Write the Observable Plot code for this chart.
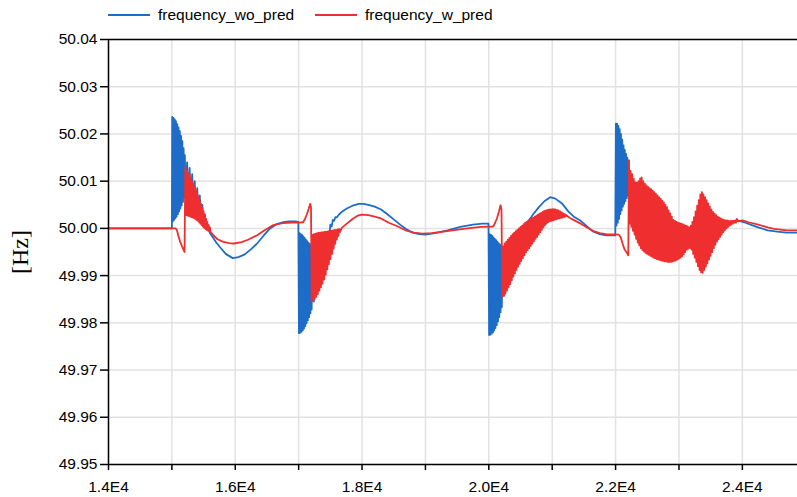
<!DOCTYPE html>
<html><head><meta charset="utf-8">
<script src="https://cdn.jsdelivr.net/npm/d3@7"></script>
<script src="https://cdn.jsdelivr.net/npm/@observablehq/plot@0.6"></script>
<style>
body{margin:0;background:#fff;font-family:"Liberation Sans",Arial,sans-serif;}
#legend{position:relative;height:30px;width:797px;font-size:15.5px;color:#000;}
.item{position:absolute;top:0;height:30px;display:flex;align-items:center;}
.swatch{width:42px;height:2px;margin-right:8px;}
g[aria-label="y-axis label"] text{font-family:"Liberation Serif","Times New Roman",serif;font-size:24px;}
</style></head><body>
<div id="legend"></div>
<div id="chart"></div>
<script>
const seriesNames = ["frequency_wo_pred", "frequency_w_pred"];
const seriesColors = ["#1c6cc8", "#ee2e2f"];
const legendX = [108, 315];

const xTickValues = [14000,15000,16000,17000,18000,19000,20000,21000,22000,23000,24000];
const xTickLabels = ["1.4E4","","1.6E4","","1.8E4","","2.0E4","","2.2E4","","2.4E4"];
const yTickValues = [49.95,49.96,49.97,49.98,49.99,50.00,50.01,50.02,50.03,50.04];
const yTickLabels = ["49.95","49.96","49.97","49.98","49.99","50.00","50.01","50.02","50.03","50.04"];

// [time, frequency] for frequency_wo_pred
const woPred = [
[14000,50.0000],[14990,50.0000],[15000,50.0000],
[15005,50.0236],[15015,50.0015],[15025,50.0234],[15035,50.0018],[15045,50.0231],[15055,50.0021],
[15065,50.0227],[15075,50.0025],[15085,50.0221],[15095,50.0030],[15105,50.0214],[15115,50.0036],
[15125,50.0206],[15135,50.0042],[15145,50.0196],[15155,50.0049],[15165,50.0185],[15175,50.0056],
[15185,50.0170],[15195,50.0064],[15205,50.0155],[15215,50.0068],
[15240,50.0140],[15260,50.0060],[15280,50.0128],[15300,50.0055],[15320,50.0115],[15340,50.0045],
[15360,50.0100],[15380,50.0035],[15400,50.0085],[15420,50.0025],[15440,50.0070],[15460,50.0015],
[15480,50.0050],[15500,50.0008],[15520,50.0030],[15540,49.9998],[15560,50.0005],
[15600,49.9990],[15650,49.9980],[15700,49.9970],[15760,49.9960],[15850,49.9946],[15960,49.9937],
[16050,49.9939],[16150,49.9945],[16250,49.9956],[16350,49.9969],[16450,49.9985],[16550,50.0000],
[16650,50.0009],[16750,50.0013],[16850,50.0015],[16950,50.0015],[16995,50.0014],
[17005,49.9778],[17015,49.9990],[17025,49.9779],[17035,49.9988],[17045,49.9781],[17055,49.9986],
[17065,49.9784],[17075,49.9983],[17085,49.9788],[17095,49.9980],[17105,49.9793],[17115,49.9976],
[17125,49.9799],[17135,49.9973],[17145,49.9805],[17155,49.9970],[17165,49.9812],[17175,49.9967],
[17185,49.9820],[17195,49.9964],[17205,49.9828],
[17220,49.9960],[17240,49.9845],[17260,49.9958],[17280,49.9865],[17300,49.9960],[17320,49.9885],
[17340,49.9965],[17360,49.9905],[17380,49.9972],[17400,49.9925],[17420,49.9980],[17440,49.9950],
[17460,49.9992],[17480,49.9978],[17500,50.0008],[17520,50.0004],[17540,50.0018],[17560,50.0016],
[17580,50.0024],[17600,50.0023],[17640,50.0030],[17700,50.0037],[17760,50.0042],[17850,50.0048],
[17950,50.0052],[18020,50.0052],[18100,50.0050],[18200,50.0046],[18300,50.0040],[18400,50.0030],
[18500,50.0019],[18600,50.0008],[18700,49.9998],[18800,49.9991],[18900,49.9988],[19000,49.9987],
[19150,49.9990],[19350,49.9996],[19550,50.0003],[19750,50.0008],[19900,50.0010],[19995,50.0010],
[20005,49.9774],[20015,49.9988],[20025,49.9775],[20035,49.9986],[20045,49.9777],[20055,49.9984],
[20065,49.9780],[20075,49.9981],[20085,49.9784],[20095,49.9978],[20105,49.9789],[20115,49.9975],
[20125,49.9795],[20135,49.9972],[20145,49.9803],[20155,49.9969],[20165,49.9812],[20175,49.9966],
[20185,49.9822],[20195,49.9964],[20205,49.9833],
[20220,49.9962],[20240,49.9858],[20260,49.9960],[20280,49.9880],[20300,49.9962],[20320,49.9900],
[20340,49.9966],[20360,49.9920],[20380,49.9972],[20400,49.9938],[20420,49.9978],[20440,49.9955],
[20460,49.9986],[20480,49.9970],[20500,49.9994],[20520,49.9988],[20540,50.0002],
[20600,50.0012],[20650,50.0020],[20700,50.0030],[20790,50.0045],[20880,50.0058],[20970,50.0066],
[21050,50.0063],[21160,50.0052],[21260,50.0035],[21350,50.0024],[21450,50.0016],[21550,50.0004],
[21650,49.9993],[21750,49.9988],[21850,49.9985],[21995,49.9985],
[22005,50.0222],[22015,50.0006],[22025,50.0222],[22035,50.0012],[22045,50.0217],[22055,50.0020],
[22065,50.0210],[22075,50.0030],[22085,50.0200],[22095,50.0038],[22105,50.0188],[22115,50.0046],
[22125,50.0176],[22135,50.0052],[22145,50.0166],[22155,50.0058],[22165,50.0158],[22175,50.0064],
[22185,50.0150],[22195,50.0069],[22205,50.0144],[22237,50.0040],
[22262,50.0095],[22287,50.0025],[22312,50.0085],[22337,50.0005],[22362,50.0080],[22387,49.9990],
[22412,50.0080],[22437,49.9980],[22462,50.0070],[22487,49.9975],[22512,50.0062],[22537,49.9970],
[22562,50.0055],[22587,49.9965],[22612,50.0045],[22637,49.9960],[22662,50.0038],[22687,49.9955],
[22712,50.0030],[22737,49.9950],[22762,50.0022],[22787,49.9945],[22812,50.0012],[22837,49.9942],
[22862,50.0003],[22887,49.9940],[22912,49.9995],[22937,49.9940],[22962,49.9990],[22987,49.9942],
[23012,49.9988],[23037,49.9945],[23062,49.9985],[23087,49.9950],[23112,49.9980],[23137,49.9958],
[23162,49.9975],[23187,49.9961],[23212,49.9980],[23237,49.9962],[23262,49.9990],[23287,49.9965],
[23312,50.0000],[23337,49.9968],[23362,50.0010],[23387,49.9972],[23412,50.0012],[23437,49.9978],
[23462,50.0012],[23487,49.9985],[23512,50.0010],[23537,49.9992],[23562,50.0010],[23587,49.9998],
[23612,50.0010],[23637,50.0003],
[23700,50.0009],[23750,50.0011],[23850,50.0015],[23950,50.0016],
[24050,50.0012],[24150,50.0007],[24250,50.0002],[24400,49.9996],[24550,49.9993],[24700,49.9991],
[24880,49.9991]
];

// [time, frequency] for frequency_w_pred
const wPred = [
[14000,50.0000],[15060,50.0000],[15080,49.9996],[15100,49.9985],[15130,49.9972],[15160,49.9962],
[15190,49.9953],[15200,49.9950],[15212,50.0130],
[15220,50.0126],[15230,50.0028],[15240,50.0122],[15250,50.0027],[15260,50.0117],[15270,50.0026],
[15280,50.0112],[15290,50.0025],[15300,50.0106],[15310,50.0024],[15320,50.0100],[15330,50.0023],
[15340,50.0094],[15350,50.0022],[15360,50.0088],[15370,50.0020],[15380,50.0081],[15390,50.0018],
[15400,50.0074],[15410,50.0016],[15420,50.0067],[15430,50.0013],[15440,50.0060],[15450,50.0010],
[15460,50.0052],[15470,50.0007],[15480,50.0044],[15490,50.0004],[15500,50.0036],[15510,50.0001],
[15520,50.0028],[15530,49.9999],[15540,50.0020],[15550,49.9997],[15560,50.0013],[15570,49.9995],
[15580,50.0007],[15590,49.9994],[15600,50.0002],[15610,49.9993],
[15650,49.9986],[15720,49.9977],[15800,49.9972],[15900,49.9969],[15980,49.9968],[16100,49.9971],
[16200,49.9976],[16340,49.9985],[16450,49.9995],[16600,50.0007],[16750,50.0011],[16900,50.0012],
[17000,50.0012],[17070,50.0013],[17100,50.0020],[17130,50.0030],[17160,50.0042],[17182,50.0052],
[17195,50.0045],[17205,49.9846],
[17215,49.9986],[17227,49.9846],[17240,49.9988],[17252,49.9850],[17265,49.9989],[17277,49.9855],
[17290,49.9990],[17302,49.9861],[17315,49.9991],[17327,49.9868],[17340,49.9991],[17352,49.9875],
[17365,49.9992],[17377,49.9883],[17390,49.9992],[17402,49.9892],[17415,49.9993],[17427,49.9902],
[17440,49.9993],[17452,49.9913],[17465,49.9994],[17477,49.9924],[17490,49.9995],[17502,49.9935],
[17515,49.9995],[17527,49.9946],[17540,49.9996],[17552,49.9957],[17565,49.9997],[17577,49.9967],
[17590,49.9997],[17602,49.9976],[17615,49.9998],[17627,49.9984],[17640,49.9999],[17652,49.9992],
[17680,50.0001],[17760,50.0010],[17850,50.0020],[17930,50.0027],[18000,50.0029],[18100,50.0028],
[18200,50.0025],[18300,50.0021],[18420,50.0012],[18550,50.0005],[18700,49.9995],[18820,49.9991],
[18950,49.9989],[19100,49.9990],[19340,49.9994],[19600,49.9999],[19870,50.0003],[20070,50.0004],
[20100,50.0012],[20130,50.0022],[20160,50.0036],[20185,50.0049],[20200,50.0040],[20212,49.9855],
[20225,49.9962],[20237,49.9857],[20250,49.9968],[20262,49.9862],[20275,49.9972],[20287,49.9868],
[20300,49.9976],[20312,49.9875],[20325,49.9980],[20337,49.9882],[20350,49.9984],[20362,49.9890],
[20375,49.9988],[20387,49.9898],[20400,49.9991],[20412,49.9905],[20425,49.9994],[20437,49.9912],
[20450,49.9997],[20462,49.9919],[20475,50.0000],[20487,49.9925],[20500,50.0003],[20512,49.9931],
[20525,50.0006],[20537,49.9937],[20550,50.0009],[20562,49.9943],[20575,50.0012],[20587,49.9949],
[20600,50.0014],[20612,49.9954],[20625,50.0017],[20637,49.9958],[20650,50.0019],[20662,49.9963],
[20675,50.0021],[20687,49.9968],[20700,50.0023],[20712,49.9973],[20725,50.0025],[20737,49.9978],
[20750,50.0027],[20762,49.9982],[20775,50.0029],[20787,49.9987],[20800,50.0031],[20812,49.9992],
[20825,50.0033],[20837,49.9997],[20850,50.0035],[20862,50.0002],[20875,50.0037],[20887,50.0007],
[20900,50.0038],[20912,50.0010],[20925,50.0039],[20937,50.0013],[20950,50.0040],[20962,50.0015],
[20975,50.0040],[20987,50.0016],[21000,50.0041],[21012,50.0017],[21025,50.0041],[21037,50.0018],
[21050,50.0040],[21062,50.0019],[21075,50.0039],[21087,50.0020],[21100,50.0038],[21112,50.0021],
[21125,50.0036],[21137,50.0022],[21150,50.0034],[21162,50.0023],[21175,50.0032],[21187,50.0024],
[21200,50.0030],[21212,50.0025],[21225,50.0028],[21237,50.0026],
[21280,50.0022],[21350,50.0017],[21450,50.0010],[21550,50.0002],[21655,49.9994],[21750,49.9990],
[21850,49.9988],[22050,49.9987],[22080,49.9981],[22110,49.9968],[22140,49.9956],[22180,49.9948],
[22200,49.9943],
[22212,50.0144],[22224,50.0010],[22237,50.0122],[22249,50.0003],[22262,50.0115],[22274,49.9995],
[22287,50.0105],[22299,49.9987],[22312,50.0098],[22324,49.9978],[22337,50.0097],[22349,49.9970],
[22362,50.0100],[22374,49.9964],[22387,50.0106],[22399,49.9958],[22412,50.0108],[22424,49.9954],
[22437,50.0100],[22449,49.9951],[22462,50.0095],[22474,49.9948],[22487,50.0091],[22499,49.9946],
[22512,50.0088],[22524,49.9944],[22537,50.0085],[22549,49.9942],[22562,50.0083],[22574,49.9940],
[22587,50.0080],[22599,49.9938],[22612,50.0077],[22624,49.9937],[22637,50.0073],[22649,49.9935],
[22662,50.0070],[22674,49.9934],[22687,50.0066],[22699,49.9933],[22712,50.0063],[22724,49.9932],
[22737,50.0059],[22749,49.9931],[22762,50.0055],[22774,49.9930],[22787,50.0050],[22799,49.9930],
[22812,50.0045],[22824,49.9929],[22837,50.0038],[22849,49.9929],[22862,50.0032],[22874,49.9929],
[22887,50.0025],[22899,49.9930],[22912,50.0018],[22924,49.9931],[22937,50.0016],[22949,49.9932],
[22962,50.0014],[22974,49.9934],[22987,50.0012],[22999,49.9936],[23012,50.0011],[23024,49.9938],
[23037,50.0010],[23049,49.9941],[23062,50.0009],[23074,49.9945],[23087,50.0007],[23099,49.9950],
[23112,50.0006],[23124,49.9955],[23137,50.0004],[23149,49.9957],[23162,50.0002],[23174,49.9959],
[23187,50.0006],[23199,49.9955],[23212,50.0014],[23224,49.9946],[23237,50.0024],[23249,49.9938],
[23262,50.0036],[23274,49.9929],[23287,50.0048],[23299,49.9920],[23312,50.0060],[23324,49.9912],
[23337,50.0072],[23349,49.9907],[23362,50.0077],[23374,49.9906],[23387,50.0072],[23399,49.9912],
[23412,50.0066],[23424,49.9919],[23437,50.0060],[23449,49.9926],[23462,50.0053],[23474,49.9934],
[23487,50.0046],[23499,49.9942],[23512,50.0040],[23524,49.9950],[23537,50.0035],[23549,49.9958],
[23562,50.0031],[23574,49.9965],[23587,50.0028],[23599,49.9972],[23612,50.0025],[23624,49.9977],
[23637,50.0023],[23649,49.9982],[23662,50.0021],[23674,49.9987],[23687,50.0019],[23699,49.9992],
[23712,50.0018],[23724,49.9996],[23737,50.0017],[23749,50.0000],[23762,50.0017],[23774,50.0003],
[23787,50.0016],[23799,50.0006],[23812,50.0016],[23824,50.0008],[23837,50.0016],[23849,50.0010],
[23862,50.0016],[23874,50.0012],[23887,50.0017],[23899,50.0012],[23912,50.0020],
[23940,50.0015],[24000,50.0017],[24100,50.0013],[24250,50.0008],[24400,50.0002],[24500,49.9999],
[24700,49.9996],[24880,49.9996]
];

// legend
const legend = document.getElementById("legend");
seriesNames.forEach((name, i) => {
  const item = document.createElement("div");
  item.className = "item";
  item.style.left = legendX[i] + "px";
  const sw = document.createElement("div");
  sw.className = "swatch";
  sw.style.background = seriesColors[i];
  const label = document.createElement("span");
  label.textContent = name;
  item.appendChild(sw); item.appendChild(label);
  legend.appendChild(item);
});

const xLabelMap = new Map(xTickValues.map((v, i) => [v, xTickLabels[i]]));
const yLabelMap = new Map(yTickValues.map((v, i) => [v, yTickLabels[i]]));
const gridStyle = {stroke: "#e2e2e2", strokeOpacity: 1, strokeWidth: 1.5};
const frameStyle = {stroke: "#000", strokeWidth: 1.5};

const chart = Plot.plot({
  width: 797, height: 467,
  marginTop: 9, marginBottom: 33, marginLeft: 108, marginRight: 0,
  style: {fontFamily: "Liberation Sans, Arial, sans-serif", fontSize: "15.5px", background: "#fff", color: "#000"},
  x: {domain: [14000, 24870]},
  y: {domain: [49.95, 50.04]},
  marks: [
    Plot.gridX(xTickValues, gridStyle),
    Plot.gridY(yTickValues, gridStyle),
    Plot.line(woPred, {x: d => d[0], y: d => d[1], stroke: seriesColors[0], strokeWidth: 1.8, clip: true}),
    Plot.line(wPred, {x: d => d[0], y: d => d[1], stroke: seriesColors[1], strokeWidth: 1.8, clip: true}),
    Plot.axisX({ticks: xTickValues, tickFormat: d => xLabelMap.get(d), tickSize: 6, tickPadding: 10, label: null, strokeWidth: 1.5}),
    Plot.axisY({ticks: yTickValues, tickFormat: d => yLabelMap.get(d), tickSize: 8, tickPadding: 3, label: "[Hz]", labelAnchor: "center", labelArrow: "none", labelOffset: 98, strokeWidth: 1.5}),
    Plot.ruleY([yTickValues[yTickValues.length - 1]], frameStyle),
    Plot.ruleY([yTickValues[0]], frameStyle),
    Plot.ruleX([xTickValues[0]], frameStyle)
  ]
});
document.getElementById("chart").appendChild(chart);
</script>
</body></html>
